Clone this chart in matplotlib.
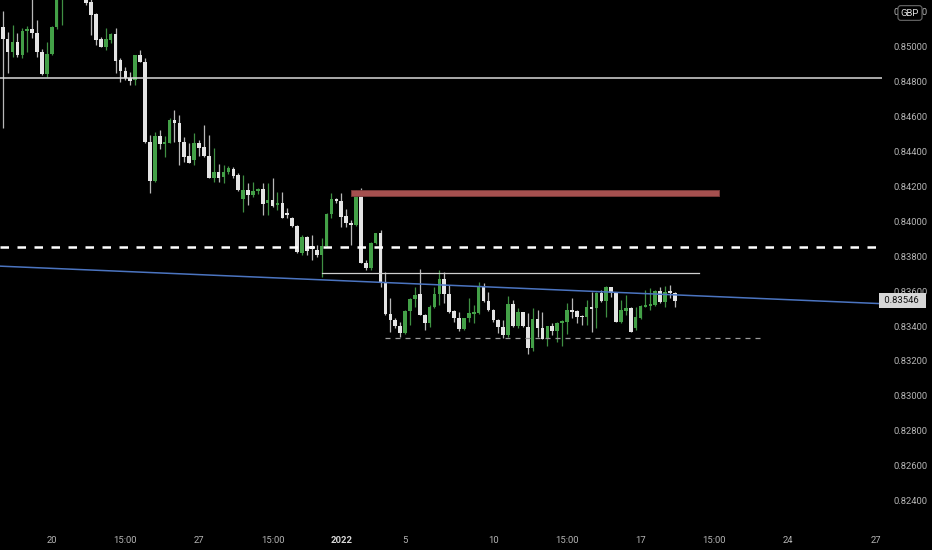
import numpy as np
import matplotlib.pyplot as plt
from matplotlib.transforms import blended_transform_factory

# EURGBP 4h candles (white = down, green = up)
opens = [0.85113, 0.85045, 0.84970, 0.85027, 0.84953, 0.85090, 0.85102, 0.85079, 0.84970, 0.84844,
         0.84959, 0.85113, 0.85325, 0.85383, 0.85440, 0.85383, 0.85469, 0.85285, 0.85257, 0.85188,
         0.85045, 0.84999, 0.85039, 0.85073, 0.84924, 0.84861, 0.84821, 0.84810, 0.84953, 0.84913,
         0.84454, 0.84231, 0.84489, 0.84443, 0.84449, 0.84580, 0.84563, 0.84454, 0.84374, 0.84351,
         0.84449, 0.84426, 0.84374, 0.84248, 0.84282, 0.84254, 0.84282, 0.84300, 0.84265, 0.84128,
         0.84179, 0.84151, 0.84174, 0.84185, 0.84105, 0.84122, 0.84093, 0.84105, 0.84047, 0.84019,
         0.83973, 0.83819, 0.83910, 0.83858, 0.83836, 0.83807, 0.83858, 0.84042, 0.84128, 0.84116,
         0.84030, 0.83990, 0.83979, 0.84162, 0.83761, 0.83732, 0.83876, 0.83933, 0.83646, 0.83469,
         0.83434, 0.83400, 0.83360, 0.83486, 0.83555, 0.83583, 0.83463, 0.83417, 0.83509, 0.83583,
         0.83669, 0.83583, 0.83486, 0.83446, 0.83383, 0.83446, 0.83469, 0.83475, 0.83629, 0.83543,
         0.83492, 0.83434, 0.83394, 0.83348, 0.83526, 0.83400, 0.83480, 0.83394, 0.83274, 0.83440,
         0.83389, 0.83325, 0.83400, 0.83371, 0.83417, 0.83423, 0.83492, 0.83486, 0.83457, 0.83452,
         0.83509, 0.83503, 0.83589, 0.83543, 0.83623, 0.83589, 0.83423, 0.83486, 0.83503, 0.83389,
         0.83446, 0.83509, 0.83515, 0.83520, 0.83601, 0.83538, 0.83601, 0.83589]
highs = [0.85205, 0.85085, 0.85125, 0.85079, 0.85108, 0.85119, 0.85297, 0.85153, 0.84987, 0.85027,
         0.85119, 0.85354, 0.85411, 0.85497, 0.85486, 0.85497, 0.85486, 0.85314, 0.85297, 0.85194,
         0.85056, 0.85108, 0.85079, 0.85108, 0.84936, 0.84884, 0.84855, 0.84953, 0.84982, 0.84936,
         0.84495, 0.84512, 0.84523, 0.84489, 0.84592, 0.84638, 0.84609, 0.84483, 0.84449, 0.84506,
         0.84466, 0.84552, 0.84495, 0.84420, 0.84328, 0.84323, 0.84317, 0.84311, 0.84277, 0.84265,
         0.84219, 0.84225, 0.84191, 0.84219, 0.84219, 0.84248, 0.84168, 0.84168, 0.84076, 0.84024,
         0.83979, 0.83922, 0.83916, 0.83922, 0.83864, 0.83904, 0.84047, 0.84162, 0.84133, 0.84162,
         0.84070, 0.84008, 0.84179, 0.84191, 0.83778, 0.83881, 0.83933, 0.83950, 0.83710, 0.83560,
         0.83446, 0.83423, 0.83492, 0.83560, 0.83623, 0.83727, 0.83469, 0.83520, 0.83623, 0.83721,
         0.83710, 0.83635, 0.83492, 0.83480, 0.83446, 0.83560, 0.83520, 0.83652, 0.83646, 0.83595,
         0.83498, 0.83440, 0.83434, 0.83572, 0.83549, 0.83503, 0.83480, 0.83475, 0.83503, 0.83492,
         0.83480, 0.83400, 0.83417, 0.83423, 0.83434, 0.83532, 0.83560, 0.83492, 0.83463, 0.83549,
         0.83595, 0.83595, 0.83606, 0.83629, 0.83623, 0.83595, 0.83549, 0.83578, 0.83509, 0.83509,
         0.83520, 0.83606, 0.83618, 0.83606, 0.83623, 0.83629, 0.83635, 0.83595]
lows = [0.84535, 0.84850, 0.84941, 0.84941, 0.84936, 0.84970, 0.85050, 0.84941, 0.84838, 0.84827,
        0.84953, 0.85102, 0.85125, 0.85337, 0.85354, 0.85371, 0.85285, 0.85239, 0.85067, 0.85010,
        0.84999, 0.84982, 0.85022, 0.84850, 0.84798, 0.84810, 0.84781, 0.84781, 0.84913, 0.84449,
        0.84162, 0.84225, 0.84414, 0.84368, 0.84449, 0.84454, 0.84323, 0.84340, 0.84334, 0.84323,
        0.84374, 0.84368, 0.84248, 0.84225, 0.84225, 0.84219, 0.84271, 0.84248, 0.84174, 0.84053,
        0.84093, 0.84139, 0.84156, 0.84036, 0.84036, 0.84082, 0.84065, 0.84019, 0.84019, 0.83967,
        0.83819, 0.83807, 0.83807, 0.83778, 0.83796, 0.83681, 0.83853, 0.84019, 0.84105, 0.83967,
        0.83967, 0.83864, 0.83973, 0.83761, 0.83721, 0.83721, 0.83870, 0.83623, 0.83463, 0.83366,
        0.83389, 0.83337, 0.83354, 0.83406, 0.83509, 0.83463, 0.83377, 0.83394, 0.83503, 0.83520,
        0.83532, 0.83475, 0.83423, 0.83371, 0.83377, 0.83423, 0.83417, 0.83469, 0.83538, 0.83486,
        0.83423, 0.83360, 0.83331, 0.83337, 0.83394, 0.83389, 0.83394, 0.83240, 0.83257, 0.83337,
        0.83325, 0.83285, 0.83348, 0.83308, 0.83285, 0.83354, 0.83446, 0.83417, 0.83406, 0.83406,
        0.83366, 0.83389, 0.83538, 0.83452, 0.83566, 0.83423, 0.83417, 0.83463, 0.83366, 0.83377,
        0.83440, 0.83509, 0.83492, 0.83515, 0.83532, 0.83509, 0.83560, 0.83509]
closes = [0.85045, 0.84970, 0.85027, 0.84953, 0.85090, 0.85102, 0.85079, 0.84970, 0.84844, 0.84959,
          0.85113, 0.85325, 0.85383, 0.85440, 0.85383, 0.85469, 0.85297, 0.85251, 0.85182, 0.85039,
          0.84999, 0.85045, 0.85073, 0.84918, 0.84861, 0.84821, 0.84804, 0.84953, 0.84913, 0.84454,
          0.84231, 0.84489, 0.84443, 0.84454, 0.84580, 0.84563, 0.84454, 0.84368, 0.84334, 0.84449,
          0.84420, 0.84374, 0.84248, 0.84282, 0.84248, 0.84282, 0.84305, 0.84260, 0.84179, 0.84179,
          0.84151, 0.84174, 0.84185, 0.84099, 0.84122, 0.84088, 0.84105, 0.84019, 0.84036, 0.83973,
          0.83824, 0.83910, 0.83830, 0.83841, 0.83807, 0.83858, 0.84042, 0.84128, 0.84116, 0.84024,
          0.83990, 0.83979, 0.84156, 0.83761, 0.83732, 0.83876, 0.83933, 0.83652, 0.83469, 0.83434,
          0.83400, 0.83360, 0.83486, 0.83555, 0.83578, 0.83463, 0.83417, 0.83509, 0.83583, 0.83669,
          0.83583, 0.83480, 0.83446, 0.83383, 0.83446, 0.83475, 0.83480, 0.83629, 0.83543, 0.83492,
          0.83434, 0.83394, 0.83348, 0.83526, 0.83400, 0.83480, 0.83400, 0.83274, 0.83440, 0.83389,
          0.83325, 0.83400, 0.83371, 0.83417, 0.83429, 0.83492, 0.83480, 0.83452, 0.83452, 0.83509,
          0.83498, 0.83589, 0.83543, 0.83623, 0.83589, 0.83423, 0.83492, 0.83503, 0.83366, 0.83452,
          0.83515, 0.83520, 0.83526, 0.83601, 0.83538, 0.83595, 0.83589, 0.83546]

# time axis labels (bar index where each label sits)
time_pos = [10, 25, 40, 55, 69, 82, 100, 115, 130, 145, 160, 178]
time_labels = ['20', '15:00', '27', '15:00', '2022', '5', '10', '15:00', '17', '15:00', '24', '27']

price_ticks = np.arange(0.824, 0.8521, 0.002)
last_price = 0.83546

# drawings on the chart
top_level = 0.84822
zone_start, zone_end = 71, 146
zone_low, zone_high = 0.84144, 0.84179
dash_level = 0.83850
mid_start, mid_end, mid_level = 65, 142, 0.83705
low_start, low_end, low_level = 78, 155, 0.83332
trend_x = [-0.55, 179.2]
trend_y = [0.83743, 0.83528]

opens = np.array(opens)
highs = np.array(highs)
lows = np.array(lows)
closes = np.array(closes)
x = np.arange(len(opens))
up = closes >= opens

font = ['Roboto', 'DejaVu Sans']
txt_col = '#b4b4b4'
fs = 6.8

fig = plt.figure(figsize=(9.32, 5.5), dpi=100, facecolor='black')
ax = fig.add_axes([0, 28 / 550, 882 / 932, 522 / 550])
ax.set_facecolor('black')

body_col = np.where(up, '#43a047', '#e4e4e4')
wick_col = np.where(up, '#3f8f42', '#b8b8b8')
ax.vlines(x, lows, highs, colors=wick_col, lw=0.9, zorder=2)
heights = np.maximum(np.abs(closes - opens), 0.00003)
ax.bar(x, heights, bottom=np.minimum(opens, closes), width=0.74,
       color=body_col, linewidth=0, zorder=3)

ax.axhline(top_level, color='#d9d9d9', lw=1.1, zorder=4)
ax.fill_between([zone_start, zone_end], zone_low, zone_high,
                facecolor='#a5504f', edgecolor='#7a3a3a', lw=0.6, zorder=4)
ax.axhline(dash_level, color='white', lw=1.8, ls=(0, (3.4, 3.4)), zorder=4)
ax.plot([mid_start, mid_end], [mid_level, mid_level], color='#cfcfcf', lw=0.9, zorder=4)
ax.plot([low_start, low_end], [low_level, low_level], color='#9a9a9a', lw=0.9,
        ls=(0, (4, 4)), zorder=4)
ax.plot(trend_x, trend_y, color='#4b74c0', lw=1.1, zorder=4)

ax.set_xlim(-0.55, 179.2)
ax.set_ylim(0.82277, 0.85268)
for s in ax.spines.values():
    s.set_visible(False)

ax.yaxis.tick_right()
ax.set_yticks(price_ticks)
ax.set_yticklabels(['%.5f' % p for p in price_ticks])
ax.tick_params(axis='y', length=0, pad=8, labelsize=fs, labelcolor=txt_col)
ax.set_xticks(time_pos)
ax.set_xticklabels(time_labels)
ax.tick_params(axis='x', length=0, pad=10, labelsize=fs, labelcolor=txt_col)
for lab in ax.get_xticklabels() + ax.get_yticklabels():
    lab.set_fontfamily(font)
ax.get_xticklabels()[4].set_fontweight('bold')
ax.get_xticklabels()[4].set_color('#d8d8d8')

# last price tag
tr = blended_transform_factory(ax.transAxes, ax.transData)
ax.text(1.0, last_price, ' %.5f  ' % last_price, transform=tr, ha='left', va='center',
        fontsize=fs, family=font, color='#111111', clip_on=False, zorder=10,
        bbox=dict(boxstyle='square,pad=0.3', facecolor='#d6d6d6', edgecolor='none'))

# currency badge over the top price label
fig.text(910 / 932, 1 - 13 / 550, 'GBP', ha='center', va='center', fontsize=6.8,
         family=font, color='#e0e0e0',
         bbox=dict(boxstyle='round,pad=0.3', facecolor='black', edgecolor='#6a6a6a', lw=0.8))

fig.savefig('out.png', dpi=100, facecolor='black')
